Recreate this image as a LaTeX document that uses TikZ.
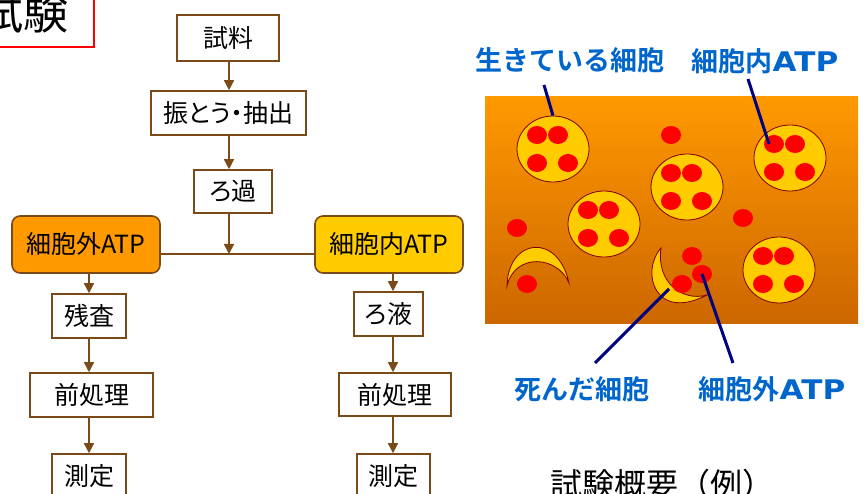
\documentclass[tikz,border=0pt]{standalone}
\usepackage{fontspec}
\setmainfont{Noto Sans CJK JP}[BoldFont={* Bold}]
\newfontfamily\atpfont{DejaVu Sans}[FakeStretch=1.15]
\usepackage{tikz}
\usetikzlibrary{arrows.meta, shapes.geometric}
\definecolor{boxbrown}{RGB}{122,74,24}
\definecolor{atporange}{RGB}{255,153,0}
\definecolor{atpyellow}{RGB}{255,204,0}
\definecolor{labelblue}{RGB}{0,102,204}
\definecolor{cellrim}{RGB}{128,0,0}
\definecolor{pointernavy}{RGB}{0,0,128}
\definecolor{mediumtop}{RGB}{255,153,0}
\definecolor{mediumbottom}{RGB}{204,102,0}

\begin{document}
\begin{tikzpicture}[
  x=1pt, y=-1pt,
  stepbox/.style={draw=boxbrown,line width=1.6pt,fill=white,minimum height=44pt,
    inner sep=0pt,font=\fontsize{25}{30}\selectfont\addfontfeatures{RawFeature=+palt}},
  atpbox/.style={stepbox,rounded corners=8pt,minimum width=148pt,minimum height=57pt},
  flow/.style={draw=boxbrown,line width=1.5pt,-{Triangle[width=10pt,length=10pt]}},
  cell/.style={ellipse,draw=cellrim,line width=0.8pt,fill=atpyellow,
    minimum width=72pt,minimum height=66pt,inner sep=0pt},
  atp/.style={ellipse,fill=red,minimum width=20pt,minimum height=18pt,inner sep=0pt},
  tag/.style={text=labelblue,font=\fontsize{27}{32}\selectfont\bfseries,inner sep=0pt},
  pointer/.style={draw=pointernavy,line width=3pt}
]
  \useasboundingbox (0,0) rectangle (867,494);
  \clip (0,0) rectangle (867,494);

  \node[draw=red,line width=1.2pt,fill=white,minimum width=140pt,minimum height=70pt,
    inner sep=0pt,font=\fontsize{45}{50}\selectfont] (title) at (24,12) {試験};

  % flow of the test
  \node[stepbox,minimum width=102pt,minimum height=46pt] (sample) at (228,38) {試料};
  \node[stepbox,minimum width=155pt] (shake) at (228.5,113) {振とう・抽出};
  \node[stepbox,minimum width=78pt,minimum height=43pt] (filt) at (233,191.5) {ろ過};
  \node[atpbox,fill=atporange] (extATP) at (86,244.5) {細胞外ATP};
  \node[atpbox,fill=atpyellow] (intATP) at (389,244.5) {細胞内ATP};
  \node[stepbox,minimum width=74pt] (residue) at (89,316) {残査};
  \node[stepbox,minimum width=123pt] (preL) at (91.5,395) {前処理};
  \node[stepbox,minimum width=74pt] (measL) at (89,476) {測定};
  \node[stepbox,minimum width=69pt] (filtrate) at (388.5,314) {ろ液};
  \node[stepbox,minimum width=112pt,minimum height=43pt] (preR) at (395,394.5) {前処理};
  \node[stepbox,minimum width=73pt] (measR) at (393.5,476) {測定};

  \coordinate (join) at (229,254);
  \coordinate (lcol) at (89,0);
  \coordinate (rcol) at (393,0);

  \draw[flow] (join |- sample.south) -- (join |- shake.north);
  \draw[flow] (join |- shake.south) -- (join |- filt.north);
  \draw[flow] (join |- filt.south) -- (join);
  \draw[draw=boxbrown,line width=1.5pt] (extATP.east |- join) -- (intATP.west |- join);
  \draw[flow] (lcol |- extATP.south) -- (lcol |- residue.north);
  \draw[flow] (lcol |- residue.south) -- (lcol |- preL.north);
  \draw[flow] (lcol |- preL.south) -- (lcol |- measL.north);
  \draw[flow] (rcol |- intATP.south) -- (rcol |- filtrate.north);
  \draw[flow] (rcol |- filtrate.south) -- (rcol |- preR.north);
  \draw[flow] (rcol |- preR.south) -- (rcol |- measR.north);

  % medium with cells
  \shade[top color=mediumtop,bottom color=mediumbottom] (485,97) rectangle (858,323);

  \foreach \n/\cx/\cy in {A/553/149, B/687/187, C/604/224, D/790/158, E/779/270} {
    \node[cell] (cell\n) at (\cx,\cy) {};
    \foreach \k/\dx/\dy in {1/-16/-14, 2/5/-14, 3/-16/14, 4/15/14}
      \node[atp] (cell\n-\k) at (\cx+\dx,\cy+\dy) {};
  }

  % dead cells
  \filldraw[fill=atpyellow,draw=cellrim,line width=0.8pt]
    (507,286) .. controls (508,238) and (558,232) .. (569,283)
    .. controls (558,256) and (515,252) .. cycle;
  \filldraw[fill=atpyellow,draw=cellrim,line width=0.8pt]
    (661,248) .. controls (640,272) and (655,322) .. (707,295)
    .. controls (682,302) and (656,282) .. cycle;

  \foreach \n/\px/\py in {1/671/135, 2/517/228, 3/743/218, 4/527/284,
                          5/692/256, 6/702/274, 7/682/284}
    \node[atp] (free\n) at (\px,\py) {};

  \node[tag] (lblAlive) at (570,60) {生きている細胞};
  \node[tag] (lblIn) at (765,61) {細胞内{\atpfont ATP}};
  \node[tag] (lblDead) at (582,389) {死んだ細胞};
  \node[tag] (lblOut) at (772,389) {細胞外{\atpfont ATP}};

  \coordinate (aliveTail) at (544,85);
  \coordinate (inTail) at (748,79);
  \coordinate (deadTail) at (595,363);
  \coordinate (deadCell) at (669,289);
  \coordinate (outTail) at (733,363);

  \draw[pointer] (aliveTail) -- (cellA.north);
  \draw[pointer] (inTail) -- ([xshift=-5pt]cellD-1.center);
  \draw[pointer] (deadTail) -- (deadCell);
  \draw[pointer] (outTail) -- (free6.center);

  \node[font=\fontsize{32}{38}\selectfont,inner sep=0pt] (caption) at (662,484) {試験概要（例）};
\end{tikzpicture}
\end{document}
